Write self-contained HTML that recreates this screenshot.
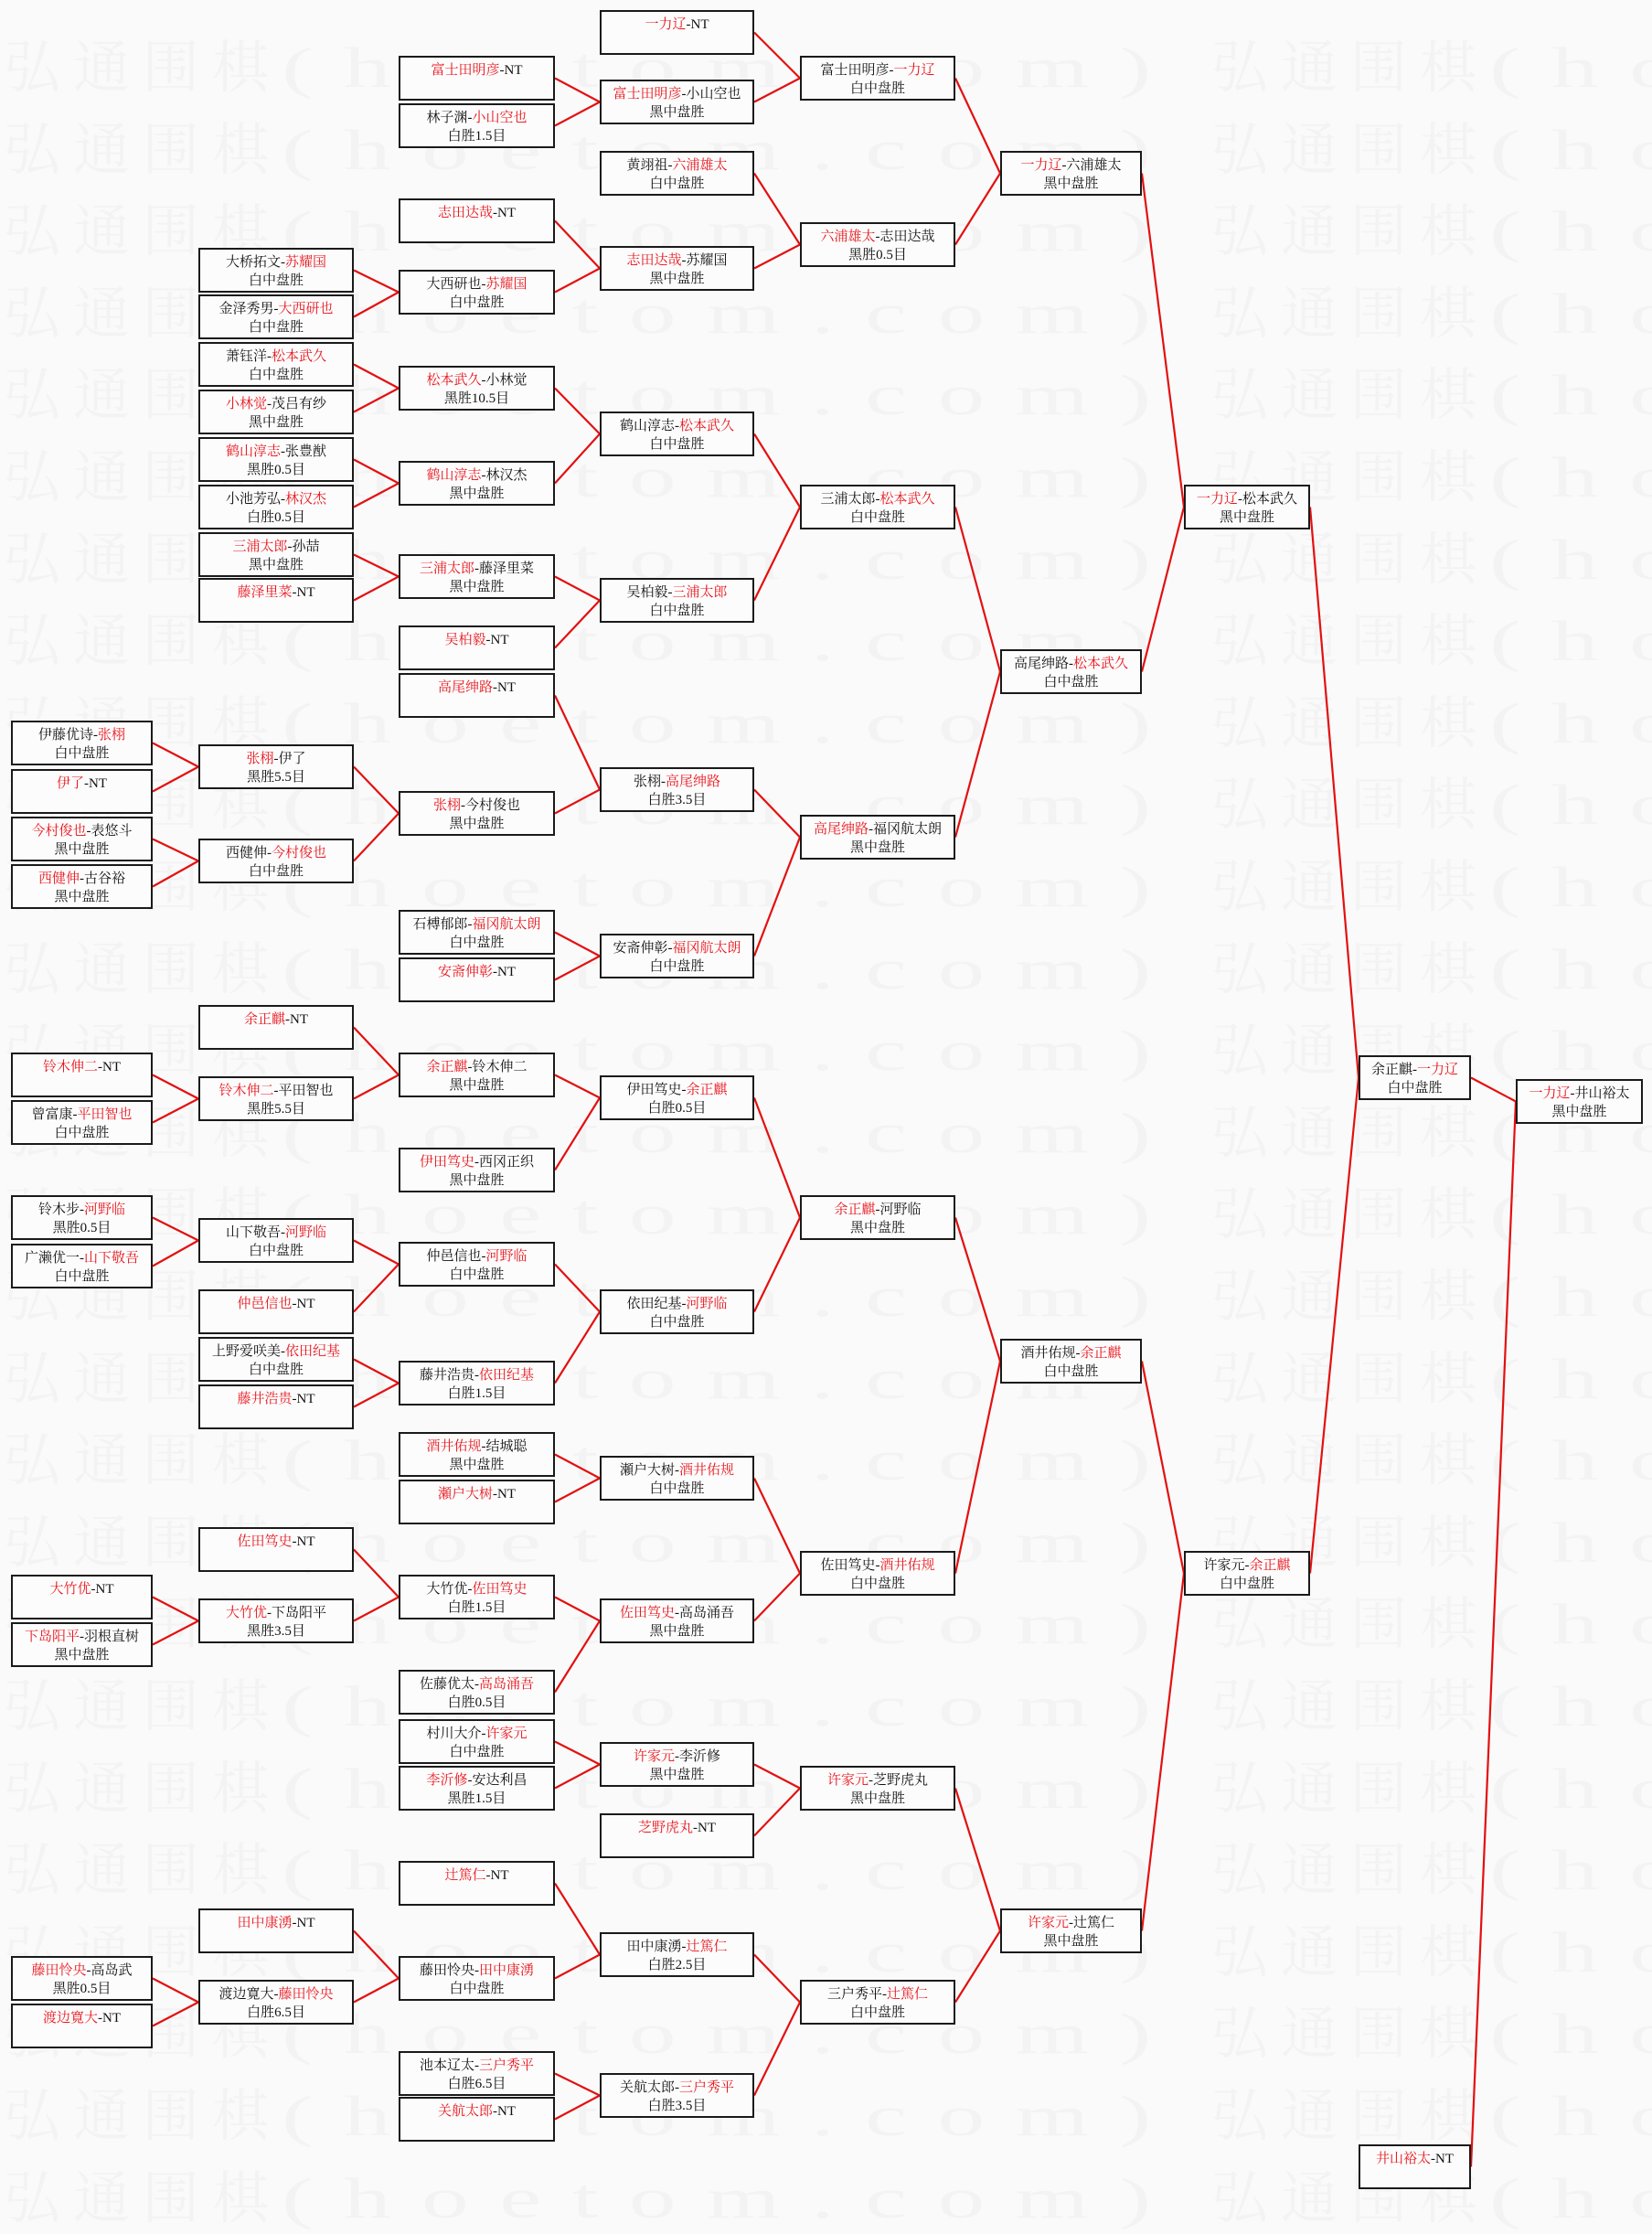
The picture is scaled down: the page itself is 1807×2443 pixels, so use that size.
<!DOCTYPE html>
<html><head><meta charset="utf-8">
<style>
html,body{margin:0;padding:0;}
body{width:1807px;height:2405px;position:relative;background:#fafafa;overflow:hidden;font-family:"Liberation Serif","Noto Serif CJK SC","Noto Sans CJK SC",serif;}
.wm{position:absolute;left:0;white-space:nowrap;font-size:62px;line-height:62px;color:#f3f3f3;}
.wm .k{font-family:"Noto Serif CJK SC",serif;letter-spacing:14px;}
.wm .l{display:inline-block;font-family:"Liberation Serif",serif;letter-spacing:20px;transform:scale(1.67,1);transform-origin:0 0;}
.b{position:absolute;height:41px;border:2px solid #1a1a1a;background:#fcfcfc;text-align:center;font-size:15px;line-height:20px;padding-top:4px;box-sizing:content-box;color:#111;z-index:2;white-space:nowrap;}
.b span{color:#e8141b;}
.c0{left:12px;width:151px}
.c1{left:217px;width:166px}
.c2{left:436px;width:167px}
.c3{left:656px;width:165px}
.c4{left:875px;width:166px}
.c5{left:1094px;width:151px}
.c6{left:1295px;width:134px}
.c7{left:1486px;width:119px}
.c8{left:1658px;width:135px}
svg{position:absolute;left:0;top:0;z-index:1}
</style></head><body>
<div id="wms"></div>
<svg id="sv" width="1807" height="2405"></svg>

<div class="b c0" id="a1" style="top:calc(515px*1.531)">伊藤优诗-<span>张栩</span><br>白中盘胜</div>
<div class="b c0" id="a2" style="top:calc(549px*1.531)"><span>伊了</span>-NT</div>
<div class="b c0" id="a3" style="top:calc(583px*1.531)"><span>今村俊也</span>-表悠斗<br>黑中盘胜</div>
<div class="b c0" id="a4" style="top:calc(617px*1.531)"><span>西健伸</span>-古谷裕<br>黑中盘胜</div>
<div class="b c0" id="a5" style="top:calc(752px*1.531)"><span>铃木伸二</span>-NT</div>
<div class="b c0" id="a6" style="top:calc(786px*1.531)">曾富康-<span>平田智也</span><br>白中盘胜</div>
<div class="b c0" id="a7" style="top:calc(854px*1.531)">铃木步-<span>河野临</span><br>黑胜0.5目</div>
<div class="b c0" id="a8" style="top:calc(888px*1.531)">广濑优一-<span>山下敬吾</span><br>白中盘胜</div>
<div class="b c0" id="a9" style="top:calc(1125px*1.531)"><span>大竹优</span>-NT</div>
<div class="b c0" id="a10" style="top:calc(1159px*1.531)"><span>下岛阳平</span>-羽根直树<br>黑中盘胜</div>
<div class="b c0" id="a11" style="top:calc(1397px*1.531)"><span>藤田怜央</span>-高岛武<br>黑胜0.5目</div>
<div class="b c0" id="a12" style="top:calc(1431px*1.531)"><span>渡边寛大</span>-NT</div>

<div class="b c1" id="b1" style="top:calc(177px*1.531)">大桥拓文-<span>苏耀国</span><br>白中盘胜</div>
<div class="b c1" id="b2" style="top:calc(210px*1.531)">金泽秀男-<span>大西研也</span><br>白中盘胜</div>
<div class="b c1" id="b3" style="top:calc(244px*1.531)">萧钰洋-<span>松本武久</span><br>白中盘胜</div>
<div class="b c1" id="b4" style="top:calc(278px*1.531)"><span>小林觉</span>-茂吕有纱<br>黑中盘胜</div>
<div class="b c1" id="b5" style="top:calc(312px*1.531)"><span>鹤山淳志</span>-张豊猷<br>黑胜0.5目</div>
<div class="b c1" id="b6" style="top:calc(346px*1.531)">小池芳弘-<span>林汉杰</span><br>白胜0.5目</div>
<div class="b c1" id="b7" style="top:calc(380px*1.531)"><span>三浦太郎</span>-孙喆<br>黑中盘胜</div>
<div class="b c1" id="b8" style="top:calc(413px*1.531)"><span>藤泽里菜</span>-NT</div>
<div class="b c1" id="b9" style="top:calc(532px*1.531)"><span>张栩</span>-伊了<br>黑胜5.5目</div>
<div class="b c1" id="b10" style="top:calc(599px*1.531)">西健伸-<span>今村俊也</span><br>白中盘胜</div>
<div class="b c1" id="b11" style="top:calc(718px*1.531)"><span>余正麒</span>-NT</div>
<div class="b c1" id="b12" style="top:calc(769px*1.531)"><span>铃木伸二</span>-平田智也<br>黑胜5.5目</div>
<div class="b c1" id="b13" style="top:calc(870px*1.531)">山下敬吾-<span>河野临</span><br>白中盘胜</div>
<div class="b c1" id="b14" style="top:calc(921px*1.531)"><span>仲邑信也</span>-NT</div>
<div class="b c1" id="b15" style="top:calc(955px*1.531)">上野爱咲美-<span>依田纪基</span><br>白中盘胜</div>
<div class="b c1" id="b16" style="top:calc(989px*1.531)"><span>藤井浩贵</span>-NT</div>
<div class="b c1" id="b17" style="top:calc(1091px*1.531)"><span>佐田笃史</span>-NT</div>
<div class="b c1" id="b18" style="top:calc(1142px*1.531)"><span>大竹优</span>-下岛阳平<br>黑胜3.5目</div>
<div class="b c1" id="b19" style="top:calc(1363px*1.531)"><span>田中康湧</span>-NT</div>
<div class="b c1" id="b20" style="top:calc(1414px*1.531)">渡边寛大-<span>藤田怜央</span><br>白胜6.5目</div>

<div class="b c2" id="c1" style="top:calc(40px*1.531)"><span>富士田明彦</span>-NT</div>
<div class="b c2" id="c2" style="top:calc(74px*1.531)">林子渊-<span>小山空也</span><br>白胜1.5目</div>
<div class="b c2" id="c3" style="top:calc(142px*1.531)"><span>志田达哉</span>-NT</div>
<div class="b c2" id="c4" style="top:calc(193px*1.531)">大西研也-<span>苏耀国</span><br>白中盘胜</div>
<div class="b c2" id="c5" style="top:calc(261px*1.531)"><span>松本武久</span>-小林觉<br>黑胜10.5目</div>
<div class="b c2" id="c6" style="top:calc(329px*1.531)"><span>鹤山淳志</span>-林汉杰<br>黑中盘胜</div>
<div class="b c2" id="c7" style="top:calc(396px*1.531)"><span>三浦太郎</span>-藤泽里菜<br>黑中盘胜</div>
<div class="b c2" id="c8" style="top:calc(447px*1.531)"><span>吴柏毅</span>-NT</div>
<div class="b c2" id="c9" style="top:calc(481px*1.531)"><span>高尾绅路</span>-NT</div>
<div class="b c2" id="c10" style="top:calc(565px*1.531)"><span>张栩</span>-今村俊也<br>黑中盘胜</div>
<div class="b c2" id="c11" style="top:calc(650px*1.531)">石榑郁郎-<span>福冈航太朗</span><br>白中盘胜</div>
<div class="b c2" id="c12" style="top:calc(684px*1.531)"><span>安斋伸彰</span>-NT</div>
<div class="b c2" id="c13" style="top:calc(752px*1.531)"><span>余正麒</span>-铃木伸二<br>黑中盘胜</div>
<div class="b c2" id="c14" style="top:calc(820px*1.531)"><span>伊田笃史</span>-西冈正织<br>黑中盘胜</div>
<div class="b c2" id="c15" style="top:calc(887px*1.531)">仲邑信也-<span>河野临</span><br>白中盘胜</div>
<div class="b c2" id="c16" style="top:calc(972px*1.531)">藤井浩贵-<span>依田纪基</span><br>白胜1.5目</div>
<div class="b c2" id="c17" style="top:calc(1023px*1.531)"><span>酒井佑规</span>-结城聪<br>黑中盘胜</div>
<div class="b c2" id="c18" style="top:calc(1057px*1.531)"><span>瀬户大树</span>-NT</div>
<div class="b c2" id="c19" style="top:calc(1125px*1.531)">大竹优-<span>佐田笃史</span><br>白胜1.5目</div>
<div class="b c2" id="c20" style="top:calc(1193px*1.531)">佐藤优太-<span>高岛涌吾</span><br>白胜0.5目</div>
<div class="b c2" id="c21" style="top:calc(1228px*1.531)">村川大介-<span>许家元</span><br>白中盘胜</div>
<div class="b c2" id="c22" style="top:calc(1261px*1.531)"><span>李沂修</span>-安达利昌<br>黑胜1.5目</div>
<div class="b c2" id="c23" style="top:calc(1329px*1.531)"><span>辻篤仁</span>-NT</div>
<div class="b c2" id="c24" style="top:calc(1397px*1.531)">藤田怜央-<span>田中康湧</span><br>白中盘胜</div>
<div class="b c2" id="c25" style="top:calc(1465px*1.531)">池本辽太-<span>三户秀平</span><br>白胜6.5目</div>
<div class="b c2" id="c26" style="top:calc(1498px*1.531)"><span>关航太郎</span>-NT</div>

<div class="b c3" id="d1" style="top:calc(7px*1.531)"><span>一力辽</span>-NT</div>
<div class="b c3" id="d2" style="top:calc(57px*1.531)"><span>富士田明彦</span>-小山空也<br>黑中盘胜</div>
<div class="b c3" id="d3" style="top:calc(108px*1.531)">黄翊祖-<span>六浦雄太</span><br>白中盘胜</div>
<div class="b c3" id="d4" style="top:calc(176px*1.531)"><span>志田达哉</span>-苏耀国<br>黑中盘胜</div>
<div class="b c3" id="d5" style="top:calc(294px*1.531)">鹤山淳志-<span>松本武久</span><br>白中盘胜</div>
<div class="b c3" id="d6" style="top:calc(413px*1.531)">吴柏毅-<span>三浦太郎</span><br>白中盘胜</div>
<div class="b c3" id="d7" style="top:calc(548px*1.531)">张栩-<span>高尾绅路</span><br>白胜3.5目</div>
<div class="b c3" id="d8" style="top:calc(667px*1.531)">安斋伸彰-<span>福冈航太朗</span><br>白中盘胜</div>
<div class="b c3" id="d9" style="top:calc(768px*1.531)">伊田笃史-<span>余正麒</span><br>白胜0.5目</div>
<div class="b c3" id="d10" style="top:calc(921px*1.531)">依田纪基-<span>河野临</span><br>白中盘胜</div>
<div class="b c3" id="d11" style="top:calc(1040px*1.531)">瀬户大树-<span>酒井佑规</span><br>白中盘胜</div>
<div class="b c3" id="d12" style="top:calc(1142px*1.531)"><span>佐田笃史</span>-高岛涌吾<br>黑中盘胜</div>
<div class="b c3" id="d13" style="top:calc(1244px*1.531)"><span>许家元</span>-李沂修<br>黑中盘胜</div>
<div class="b c3" id="d14" style="top:calc(1295px*1.531)"><span>芝野虎丸</span>-NT</div>
<div class="b c3" id="d15" style="top:calc(1380px*1.531)">田中康湧-<span>辻篤仁</span><br>白胜2.5目</div>
<div class="b c3" id="d16" style="top:calc(1481px*1.531)">关航太郎-<span>三户秀平</span><br>白胜3.5目</div>

<div class="b c4" id="e1" style="top:calc(40px*1.531)">富士田明彦-<span>一力辽</span><br>白中盘胜</div>
<div class="b c4" id="e2" style="top:calc(159px*1.531)"><span>六浦雄太</span>-志田达哉<br>黑胜0.5目</div>
<div class="b c4" id="e3" style="top:calc(346px*1.531)">三浦太郎-<span>松本武久</span><br>白中盘胜</div>
<div class="b c4" id="e4" style="top:calc(582px*1.531)"><span>高尾绅路</span>-福冈航太朗<br>黑中盘胜</div>
<div class="b c4" id="e5" style="top:calc(854px*1.531)"><span>余正麒</span>-河野临<br>黑中盘胜</div>
<div class="b c4" id="e6" style="top:calc(1108px*1.531)">佐田笃史-<span>酒井佑规</span><br>白中盘胜</div>
<div class="b c4" id="e7" style="top:calc(1261px*1.531)"><span>许家元</span>-芝野虎丸<br>黑中盘胜</div>
<div class="b c4" id="e8" style="top:calc(1414px*1.531)">三户秀平-<span>辻篤仁</span><br>白中盘胜</div>

<div class="b c5" id="f1" style="top:calc(108px*1.531)"><span>一力辽</span>-六浦雄太<br>黑中盘胜</div>
<div class="b c5" id="f2" style="top:calc(464px*1.531)">高尾绅路-<span>松本武久</span><br>白中盘胜</div>
<div class="b c5" id="f3" style="top:calc(956px*1.531)">酒井佑规-<span>余正麒</span><br>白中盘胜</div>
<div class="b c5" id="f4" style="top:calc(1363px*1.531)"><span>许家元</span>-辻篤仁<br>黑中盘胜</div>

<div class="b c6" id="g1" style="top:calc(346px*1.531)"><span>一力辽</span>-松本武久<br>黑中盘胜</div>
<div class="b c6" id="g2" style="top:calc(1108px*1.531)">许家元-<span>余正麒</span><br>白中盘胜</div>

<div class="b c7" id="h1" style="top:1154px">余正麒-<span>一力辽</span><br>白中盘胜</div>
<div class="b c7" id="h2" style="top:calc(1532px*1.531)"><span>井山裕太</span>-NT</div>

<div class="b c8" id="i1" style="top:1180px"><span>一力辽</span>-井山裕太<br>黑中盘胜</div>

<script>
(function(){
  var w=document.getElementById('wms'),h='';
  for(var i=0;i<27;i++){
    var y=38+i*89.6;
    var t='<span class="k">弘通围棋</span><span class="l">(hoetom.com)</span>';
    h+='<div class="wm" style="top:'+y+'px;left:4px">'+t+'</div>';
    h+='<div class="wm" style="top:'+y+'px;left:1325px">'+t+'</div>';
  }
  w.innerHTML=h;
  var P={};
  function g(p,kids){kids.forEach(function(k){P[k]=p;});}
  g('b9',['a1','a2']);g('b10',['a3','a4']);g('b12',['a5','a6']);g('b13',['a7','a8']);g('b18',['a9','a10']);g('b20',['a11','a12']);
  g('c4',['b1','b2']);g('c5',['b3','b4']);g('c6',['b5','b6']);g('c7',['b7','b8']);g('c10',['b9','b10']);g('c13',['b11','b12']);g('c15',['b13','b14']);g('c16',['b15','b16']);g('c19',['b17','b18']);g('c24',['b19','b20']);
  g('d2',['c1','c2']);g('d4',['c3','c4']);g('d5',['c5','c6']);g('d6',['c7','c8']);g('d7',['c9','c10']);g('d8',['c11','c12']);g('d9',['c13','c14']);g('d10',['c15','c16']);g('d11',['c17','c18']);g('d12',['c19','c20']);g('d13',['c21','c22']);g('d15',['c23','c24']);g('d16',['c25','c26']);
  g('e1',['d1','d2']);g('e2',['d3','d4']);g('e3',['d5','d6']);g('e4',['d7','d8']);g('e5',['d9','d10']);g('e6',['d11','d12']);g('e7',['d13','d14']);g('e8',['d15','d16']);
  g('f1',['e1','e2']);g('f2',['e3','e4']);g('f3',['e5','e6']);g('f4',['e7','e8']);
  g('g1',['f1','f2']);g('g2',['f3','f4']);
  g('h1',['g1','g2']);g('i1',['h1','h2']);
  var s='';
  for(var k in P){
    var c=document.getElementById(k),p=document.getElementById(P[k]);
    var x1=c.offsetLeft+c.offsetWidth,y1=c.offsetTop+c.offsetHeight/2;
    var x2=p.offsetLeft,y2=p.offsetTop+p.offsetHeight/2;
    s+='<line x1="'+x1+'" y1="'+y1+'" x2="'+x2+'" y2="'+y2+'" stroke="#e31010" stroke-width="2.2"/>';
  }
  document.getElementById('sv').innerHTML=s;
})();
</script>
</body></html>
